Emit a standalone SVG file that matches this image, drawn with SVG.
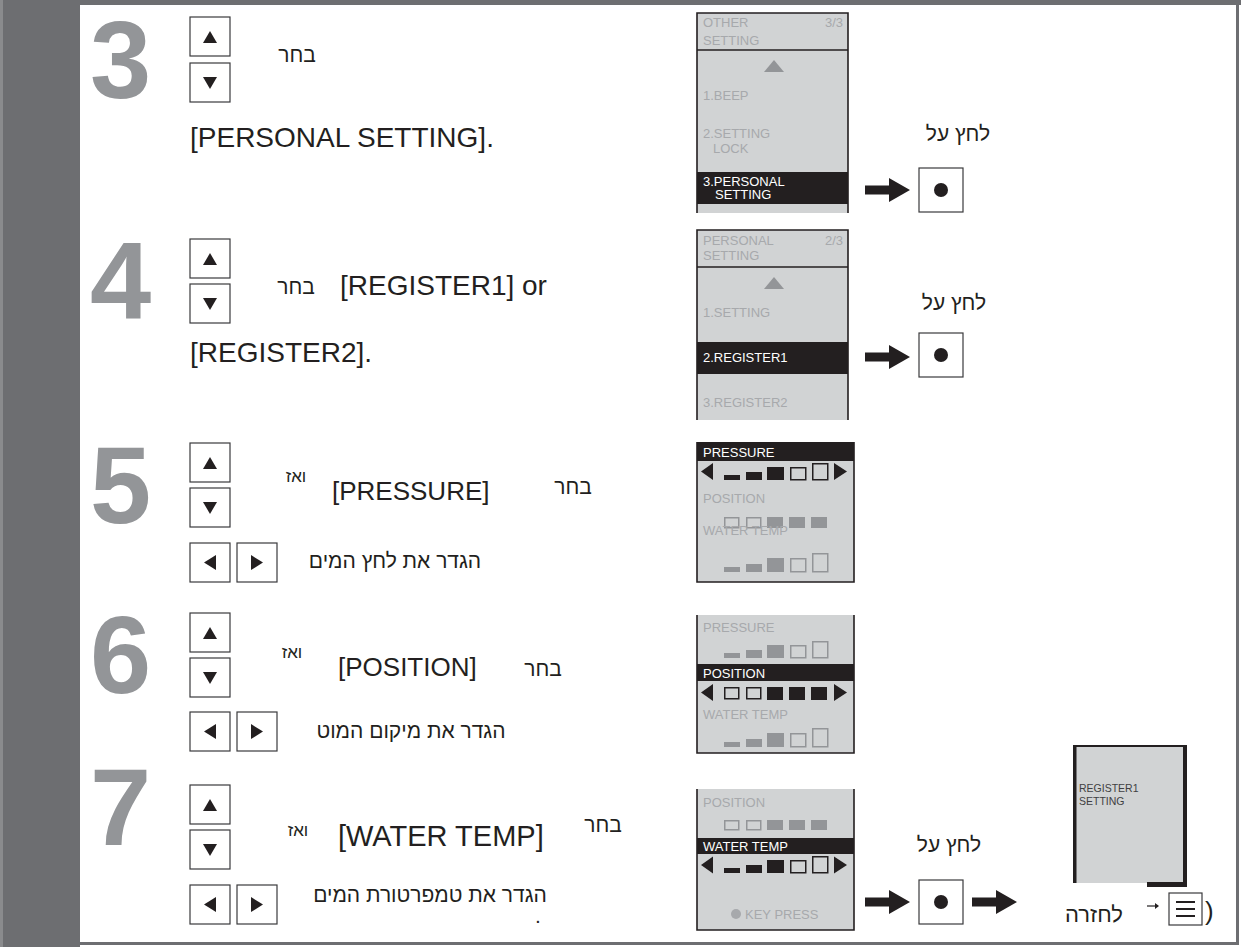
<svg xmlns="http://www.w3.org/2000/svg" width="1241" height="947" viewBox="0 0 1241 947">
<style>
.t{font-family:"Liberation Sans","DejaVu Sans",sans-serif;fill:#231f20}
.he{font-size:21px;text-anchor:middle}
.vz{font-size:17px;text-anchor:middle}
.br{font-size:28px}
.num{font-family:"Liberation Sans","DejaVu Sans",sans-serif;font-weight:bold;font-size:110px;fill:#939598}
.key{fill:#fff;stroke:#3a3a3c;stroke-width:1.2}
.tri{fill:#231f20}
.scr{fill:#d1d3d4}
.bd{stroke:#231f20;stroke-width:1.6;fill:none}
.st{font-family:"Liberation Sans","DejaVu Sans",sans-serif;font-size:13px;fill:#a7a9ac}
.sw{font-family:"Liberation Sans","DejaVu Sans",sans-serif;font-size:13px;fill:#fff}
.bk{fill:#231f20}
.g{fill:#939598}
.ob{fill:none;stroke:#231f20;stroke-width:1.5}
.og{fill:none;stroke:#939598;stroke-width:1.5}
.frame{fill:#6d6e71}
</style>
<defs>
<g id="up"><rect class="key" x="0" y="0" width="40" height="39"/><path class="tri" d="M13 26 L20 14 L27 26Z"/></g>
<g id="down"><rect class="key" x="0" y="0" width="40" height="39"/><path class="tri" d="M13 14 L27 14 L20 26Z"/></g>
<g id="left"><rect class="key" x="0" y="0" width="40" height="39"/><path class="tri" d="M14 19.5 L26 12 L26 27Z"/></g>
<g id="right"><rect class="key" x="0" y="0" width="40" height="39"/><path class="tri" d="M14 12 L26 19.5 L14 27Z"/></g>
<g id="ok"><rect class="key" x="0" y="0" width="44" height="44"/><circle cx="22" cy="22" r="7" fill="#231f20"/></g>
<path id="arr" d="M0 -4.5 H24 V-12 L45 0 L24 12 V4.5 H0Z" fill="#231f20"/>
</defs>

<g id="frame">
<rect class="frame" x="0" y="0" width="1241" height="5"/>
<rect class="frame" x="0" y="0" width="80" height="947"/>
<rect x="0" y="0" width="3" height="947" fill="#8a8b8d"/>
<rect class="frame" x="1236" y="0" width="3" height="945"/>
<rect class="frame" x="80" y="942" width="1159" height="3"/>
</g>

<g id="step3">
<text class="num" x="90" y="98">3</text>
<use href="#up" x="190" y="17"/>
<use href="#down" x="190" y="63"/>
<text class="t he" x="297" y="62">בחר</text>
<text class="t br" x="190" y="147">[PERSONAL SETTING].</text>
</g>

<g id="screen3">
<rect class="scr" x="697" y="13" width="151" height="200"/>
<path class="bd" d="M697 213 V13 H848 V213"/>
<path class="bd" d="M697 50 H848"/>
<text class="st" x="703" y="27">OTHER</text>
<text class="st" x="703" y="45">SETTING</text>
<text class="st" x="843" y="27" text-anchor="end">3/3</text>
<path class="g" d="M764 72 L774 60 L784 72Z"/>
<text class="st" x="703" y="100">1.BEEP</text>
<text class="st" x="703" y="138">2.SETTING</text>
<text class="st" x="713" y="153">LOCK</text>
<rect class="bk" x="697" y="172" width="151" height="32"/>
<text class="sw" x="703" y="186">3.PERSONAL</text>
<text class="sw" x="715" y="199">SETTING</text>
</g>

<g id="press3">
<text class="t he" x="958" y="141">לחץ על</text>
<use href="#ok" x="919" y="168"/>
</g>

<g id="step4">
<text class="num" x="90" y="318">4</text>
<use href="#up" x="190" y="239"/>
<use href="#down" x="190" y="284"/>
<text class="t he" x="296" y="294">בחר</text>
<text class="t br" x="340" y="295">[REGISTER1] or</text>
<text class="t br" x="190" y="362">[REGISTER2].</text>
</g>

<g id="screen4">
<rect class="scr" x="697" y="230" width="151" height="190"/>
<path class="bd" d="M697 420 V230 H848 V420"/>
<path class="bd" d="M697 267 H848"/>
<text class="st" x="703" y="245">PERSONAL</text>
<text class="st" x="703" y="260">SETTING</text>
<text class="st" x="843" y="245" text-anchor="end">2/3</text>
<path class="g" d="M764 289 L774 277 L784 289Z"/>
<text class="st" x="703" y="317">1.SETTING</text>
<rect class="bk" x="697" y="342" width="151" height="32"/>
<text class="sw" x="703" y="362">2.REGISTER1</text>
<text class="st" x="703" y="407">3.REGISTER2</text>
</g>

<g id="press4">
<text class="t he" x="954" y="310">לחץ על</text>
<use href="#ok" x="919" y="333"/>
</g>

<g id="step5">
<text class="num" x="90" y="523">5</text>
<use href="#up" x="190" y="443"/>
<use href="#down" x="190" y="488"/>
<text class="t vz" x="296" y="482">ואז</text>
<text class="t" font-size="26" x="332" y="500">[PRESSURE]</text>
<text class="t he" x="573" y="494">בחר</text>
<use href="#left" x="190" y="543"/>
<use href="#right" x="237" y="543"/>
<text class="t he" x="395" y="568">הגדר את לחץ המים</text>
</g>

<g id="screen5">
<rect class="scr" x="697" y="442" width="157" height="140"/>
<path class="bd" d="M697 442 V582 H854 V442"/>
<rect class="bk" x="697" y="442" width="157" height="19"/>
<text class="sw" x="703" y="457">PRESSURE</text>
<path class="bk" d="M701 471.5 L713 463 L713 480Z"/>
<path class="bk" d="M834 463 L834 480 L847 471.5Z"/>
<rect class="bk" x="724" y="475" width="16" height="5"/>
<rect class="bk" x="746" y="472" width="16" height="8"/>
<rect class="bk" x="767" y="467" width="17" height="13"/>
<rect class="ob" x="790.75" y="467.75" width="15" height="12"/>
<rect class="ob" x="812.75" y="463.75" width="15" height="16"/>
<text class="st" x="703" y="503">POSITION</text>
<rect class="og" x="724.75" y="517.75" width="14" height="10"/>
<rect class="og" x="746.75" y="517.75" width="14" height="10"/>
<rect class="g" x="767" y="517" width="16" height="11"/>
<rect class="g" x="789" y="517" width="16" height="11"/>
<rect class="g" x="811" y="517" width="16" height="11"/>
<text class="st" x="703" y="535">WATER TEMP</text>
<rect class="g" x="724" y="567" width="16" height="5"/>
<rect class="g" x="746" y="564" width="16" height="8"/>
<rect class="g" x="767" y="558" width="17" height="14"/>
<rect class="og" x="790.75" y="558.75" width="15" height="13"/>
<rect class="og" x="812.75" y="553.75" width="15" height="18"/>
</g>

<g id="step6">
<text class="num" x="90" y="693">6</text>
<use href="#up" x="190" y="613"/>
<use href="#down" x="190" y="658"/>
<text class="t vz" x="292" y="658">ואז</text>
<text class="t" font-size="26" x="338" y="676">[POSITION]</text>
<text class="t he" x="543" y="676">בחר</text>
<use href="#left" x="190" y="712"/>
<use href="#right" x="237" y="712"/>
<text class="t he" x="411" y="738">הגדר את מיקום המוט</text>
</g>

<g id="screen6">
<rect class="scr" x="697" y="615" width="157" height="138"/>
<path class="bd" d="M697 615 V753 H854 V615"/>
<text class="st" x="703" y="632">PRESSURE</text>
<rect class="g" x="724" y="653" width="16" height="5"/>
<rect class="g" x="746" y="650" width="16" height="8"/>
<rect class="g" x="767" y="645" width="17" height="13"/>
<rect class="og" x="790.75" y="645.75" width="15" height="12"/>
<rect class="og" x="812.75" y="641.75" width="15" height="16"/>
<rect class="bk" x="697" y="664" width="157" height="17"/>
<text class="sw" x="703" y="678">POSITION</text>
<path class="bk" d="M701 692.5 L713 684 L713 701Z"/>
<path class="bk" d="M834 684 L834 701 L847 692.5Z"/>
<rect class="ob" x="724.75" y="687.75" width="14" height="11"/>
<rect class="ob" x="746.75" y="687.75" width="14" height="11"/>
<rect class="bk" x="767" y="687" width="16" height="13"/>
<rect class="bk" x="789" y="687" width="16" height="13"/>
<rect class="bk" x="811" y="687" width="16" height="13"/>
<text class="st" x="703" y="719">WATER TEMP</text>
<rect class="g" x="724" y="742" width="16" height="5"/>
<rect class="g" x="746" y="739" width="16" height="8"/>
<rect class="g" x="767" y="733" width="17" height="14"/>
<rect class="og" x="790.75" y="733.75" width="15" height="13"/>
<rect class="og" x="812.75" y="728.75" width="15" height="18"/>
</g>

<g id="step7">
<text class="num" x="90" y="845">7</text>
<use href="#up" x="190" y="785"/>
<use href="#down" x="190" y="830"/>
<text class="t vz" x="298" y="836">ואז</text>
<text class="t" font-size="29" x="338" y="846">[WATER TEMP]</text>
<text class="t he" x="603" y="832">בחר</text>
<use href="#left" x="190" y="885"/>
<use href="#right" x="237" y="885"/>
<text class="t he" x="430" y="902">הגדר את טמפרטורת המים</text>
<text class="t" font-size="21" x="535" y="923">.</text>
</g>

<g id="screen7">
<rect class="scr" x="697" y="789" width="157" height="141"/>
<path class="bd" d="M697 789 V930 H854 V789"/>
<text class="st" x="703" y="807">POSITION</text>
<rect class="og" x="724.75" y="820.75" width="14" height="9"/>
<rect class="og" x="746.75" y="820.75" width="14" height="9"/>
<rect class="g" x="767" y="820" width="16" height="10"/>
<rect class="g" x="789" y="820" width="16" height="10"/>
<rect class="g" x="811" y="820" width="16" height="10"/>
<rect class="bk" x="697" y="838" width="157" height="16"/>
<text class="sw" x="703" y="851">WATER TEMP</text>
<path class="bk" d="M701 865 L713 856.5 L713 873.5Z"/>
<path class="bk" d="M834 856.5 L834 873.5 L847 865Z"/>
<rect class="bk" x="724" y="868" width="16" height="5"/>
<rect class="bk" x="746" y="865" width="16" height="8"/>
<rect class="bk" x="767" y="860" width="17" height="13"/>
<rect class="ob" x="790.75" y="860.75" width="15" height="12"/>
<rect class="ob" x="812.75" y="856.75" width="15" height="16"/>
<circle cx="736" cy="914" r="5" fill="#a7a9ac"/>
<text class="st" x="745" y="919">KEY PRESS</text>
</g>

<g id="press7">
<text class="t he" x="949" y="852">לחץ על</text>
<use href="#ok" x="919" y="880"/>
</g>

<g id="register">
<rect class="scr" x="1076" y="745" width="107" height="138"/>
<rect class="bk" x="1073" y="745" width="114" height="2"/>
<rect class="bk" x="1073" y="745" width="3.5" height="138"/>
<rect class="bk" x="1183" y="745" width="4" height="142"/>
<rect class="bk" x="1147" y="882" width="40" height="5"/>
<text x="1079" y="792" font-family="Liberation Sans, sans-serif" font-size="10.5" fill="#404042">REGISTER1</text>
<text x="1079" y="805" font-family="Liberation Sans, sans-serif" font-size="10.5" fill="#404042">SETTING</text>
</g>

<g id="back">
<text class="t" font-size="22" text-anchor="middle" x="1094" y="922">לחזרה</text>
<path d="M1147 906 H1158" stroke="#231f20" stroke-width="1.2"/>
<path d="M1155 903 L1159 906 L1155 909Z" fill="#231f20"/>
<rect class="key" x="1169" y="893" width="33" height="32"/>
<path d="M1176 902 H1195 M1176 909 H1195 M1176 916 H1195" stroke="#231f20" stroke-width="2"/>
<text class="t" font-size="26" x="1205" y="920">)</text>
</g>

<g id="connectors">
<use href="#arr" x="865" y="190"/>
<use href="#arr" x="865" y="357"/>
<use href="#arr" x="865" y="902"/>
<use href="#arr" x="972" y="902"/>
</g>
</svg>
